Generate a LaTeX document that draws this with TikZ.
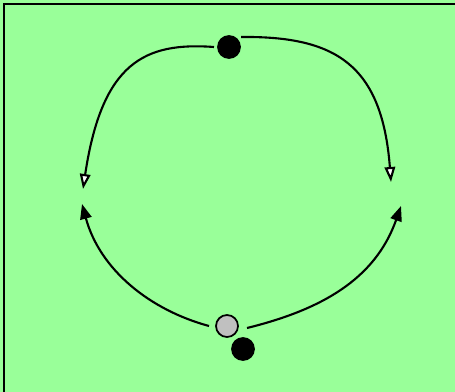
\documentclass[tikz,border=0pt]{standalone}
\usepackage{xcolor}
\usepackage{tikz}
\usetikzlibrary{arrows.meta}

\definecolor{fieldgreen}{RGB}{153,255,153}
\definecolor{puckgray}{RGB}{192,192,192}

\begin{document}
\begin{tikzpicture}[
  x=0.02cm, y=-0.02cm,
  dot/.style={circle, draw, line width=1pt, minimum size=0.44cm, inner sep=0pt},
  pass/.style={line width=1.2pt},
  outarrow/.style={pass, -{Triangle[length=3mm, width=2.1mm, fill=white]}},
  inarrow/.style={pass, -{Triangle[length=3mm, width=2.3mm]}}
]
\useasboundingbox (0,0) rectangle (455,391);
\fill[fieldgreen] (-10,-10) rectangle (470,401);
\draw[line width=1.4pt] (4,395) -- (4,4) -- (460,4);

\node[dot, fill=black] (top) at (229,47) {};
\node[dot, fill=puckgray] (ball) at (227,326) {};
\node[dot, fill=black] (player) at (243,349) {};

\coordinate (topl) at (214,47);
\coordinate (topr) at (241,37);
\coordinate (ballw) at (209,326);
\coordinate (balle) at (247,328);
\coordinate (leftdown) at (83,189);
\coordinate (rightdown) at (391,182);
\coordinate (leftup) at (82,204);
\coordinate (rightup) at (401,206);

\draw[outarrow] (topl) .. controls (145,42) and (102,62) .. (leftdown);
\draw[outarrow] (topr) .. controls (335,36) and (382,64) .. (rightdown);
\draw[inarrow] (ballw) .. controls (150,310) and (100,270) .. (leftup);
\draw[inarrow] (balle) .. controls (320,310) and (375,280) .. (rightup);
\end{tikzpicture}
\end{document}
